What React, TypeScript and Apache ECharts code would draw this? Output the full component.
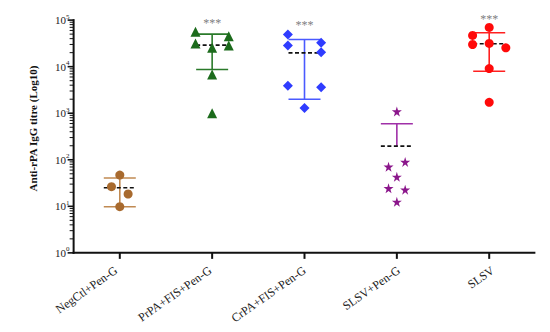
import React, { useEffect, useRef } from "react";
import * as echarts from "echarts";

const categories = ["NegCtl+Pen-G", "PrPA+FIS+Pen-G", "CrPA+FIS+Pen-G", "SLSV+Pen-G", "SLSV"];

// individual titres per group
const negCtl = [47, 26.4, 18.4, 9.8];
const prPA = [56000, 45000, 31600, 25400, 28500, 6760, 1000];
const crPA = [49000, 28500, 32600, 20400, 3900, 3600, 1300];
const slsvPen = [1090, 71, 90, 43, 24.5, 22.8, 12.5];
const slsv = [69700, 46900, 29900, 31600, 25400, 9100, 1710];

// horizontal jitter (in category units) of each point, as in the figure
const negCtlJitter = [0, -0.09, 0.09, 0];
const prPAJitter = [-0.18, 0.18, -0.18, 0, 0.18, 0, 0];
const crPAJitter = [-0.18, -0.18, 0.18, 0.18, -0.18, 0.18, 0];
const slsvPenJitter = [0, -0.09, 0.09, 0, -0.09, 0.09, 0];
const slsvJitter = [0, -0.18, -0.18, 0, 0.18, 0, 0];

// summary: mean, upper and lower error bar ends
const means = [25, 29000, 19800, 196, 31000];
const uppers = [40.7, 50000, 38400, 594, 53500];
const lowers: (number | null)[] = [9.8, 8700, 1990, null, 7950];

// significance marks
const sigText = ["", "***", "***", "", "***"];
const sigLevel = [0, 86000, 80000, 0, 106000];

// axis ticks
const yTickValues = [1, 10, 100, 1000, 10000, 100000];
const yMinorTickValues: number[] = [];
for (let e = 0; e < 5; e++) for (let k = 2; k <= 9; k++) yMinorTickValues.push(k * Math.pow(10, e));

const pointColors = ["#A86A2E", "#1C6B1C", "#2F3CFF", "#8B168B", "#FF0A0A"];
const barColors = ["#C08A52", "#2A7A2A", "#4A5AFF", "#A030A8", "#FF2020"];
const STAR = "path://M50,0 L61,35 L98,35 L68,57 L79,91 L50,70 L21,91 L32,57 L2,35 L39,35 Z";

const FONT = "Liberation Serif";
const AXIS = "#111111";

function pts(vals: number[], jit: number[], idx: number) {
  return vals.map((v, i) => [idx + jit[i], v]);
}

export default function App() {
  const ref = useRef<HTMLDivElement>(null);
  useEffect(() => {
    document.body.style.margin = "0";
    const chart = echarts.init(ref.current!, null, { renderer: "svg" });
    const scatterBase = (name: string, data: number[][], idx: number, symbol: string, size: number) => ({
      name,
      type: "scatter",
      xAxisIndex: 1,
      data,
      symbol,
      symbolSize: size,
      itemStyle: { color: pointColors[idx], opacity: 1 },
      z: 5,
    });
    const option: any = {
      animation: false,
      grid: { left: 69, right: 10, top: 18, bottom: 77 },
      xAxis: [
        {
          type: "category",
          data: categories,
          axisLine: { show: false, onZero: false },
          axisTick: { show: false },
          axisLabel: { rotate: 35, fontFamily: FONT, fontSize: 12, color: "#222", margin: 14 },
        },
        { type: "value", min: -0.55, max: 4.55, show: false },
      ],
      yAxis: {
        type: "log",
        logBase: 10,
        min: 0.9,
        max: 111000,
        name: "Anti-rPA IgG titre (Log10)",
        nameLocation: "middle",
        nameGap: 31,
        nameTextStyle: { fontFamily: FONT, fontSize: 11, fontWeight: "bold", color: "#111", padding: [0, 0, 0, 16] },
        axisLine: { show: false, onZero: false },
        axisTick: { show: false },
        splitLine: { show: false },
        axisLabel: { show: false },
      },
      series: [
        // axis frame, ticks and tick labels drawn inside the plot rectangle, through the scales
        {
          type: "custom",
          xAxisIndex: 1,
          clip: false,
          silent: true,
          z: 3,
          data: [[0, 1000]],
          renderItem: (params: any, api: any) => {
            const o = api.coord([-0.5, 1]);
            const t = api.coord([-0.5, 100000]);
            const r = api.coord([4.5, 1]);
            const fill = { fill: AXIS };
            const children: any[] = [
              { type: "rect", shape: { x: o[0] - 1, y: t[1] - 1, width: 2, height: o[1] - t[1] + 2 }, style: fill },
              { type: "rect", shape: { x: o[0] - 1, y: o[1] - 1, width: r[0] - o[0] + 1, height: 2 }, style: fill },
            ];
            yTickValues.forEach((v) => {
              const p = api.coord([-0.5, v]);
              children.push({ type: "rect", shape: { x: p[0] - 6, y: p[1] - 0.8, width: 6, height: 1.6 }, style: fill });
              const e = Math.round(Math.log10(v));
              children.push({
                type: "text",
                x: p[0] - 4,
                y: p[1],
                style: {
                  text: `{b|10}{s|${e}}`,
                  rich: {
                    b: { fontFamily: FONT, fontSize: 11, fill: "#222" },
                    s: { fontFamily: FONT, fontSize: 7, fill: "#222", verticalAlign: "top", padding: [0, 0, 7, 0] },
                  },
                  align: "right",
                  verticalAlign: "middle",
                },
              });
            });
            yMinorTickValues.forEach((v) => {
              const p = api.coord([-0.5, v]);
              children.push({ type: "rect", shape: { x: p[0] - 4, y: p[1] - 0.5, width: 4, height: 1 }, style: fill });
            });
            categories.forEach((c, i) => {
              const p = api.coord([i, 1]);
              children.push({ type: "rect", shape: { x: p[0] - 1, y: p[1], width: 2, height: 6 }, style: fill });
            });
            return { type: "group", children };
          },
        },
        // error bars and means
        {
          type: "custom",
          xAxisIndex: 1,
          clip: false,
          silent: true,
          z: 3,
          data: means.map((m, i) => [i, m, uppers[i], lowers[i] == null ? m : lowers[i]]),
          renderItem: (params: any, api: any) => {
            const i = params.dataIndex;
            const x = api.value(0);
            const top = api.coord([x, api.value(2)]);
            const mid = api.coord([x, api.value(1)]);
            const low = api.coord([x, api.value(3)]);
            const hw = 16;
            const col = barColors[i];
            const st = { stroke: col, lineWidth: 1.6 };
            const children: any[] = [
              { type: "line", shape: { x1: top[0], y1: top[1], x2: low[0], y2: low[1] }, style: st },
              { type: "line", shape: { x1: top[0] - hw, y1: top[1], x2: top[0] + hw, y2: top[1] }, style: st },
            ];
            if (lowers[i] != null) {
              children.push({ type: "line", shape: { x1: low[0] - hw, y1: low[1], x2: low[0] + hw, y2: low[1] }, style: st });
            }
            children.push({
              type: "line",
              z2: 10,
              shape: { x1: mid[0] - hw, y1: mid[1], x2: mid[0] + hw, y2: mid[1] },
              style: { stroke: "#111", lineWidth: 1.6, lineDash: [4, 2.5] },
            });
            return { type: "group", children };
          },
        },
        scatterBase("NegCtl+Pen-G", pts(negCtl, negCtlJitter, 0), 0, "circle", 9),
        scatterBase("PrPA+FIS+Pen-G", pts(prPA, prPAJitter, 1), 1, "triangle", 10),
        scatterBase("CrPA+FIS+Pen-G", pts(crPA, crPAJitter, 2), 2, "diamond", 10),
        scatterBase("SLSV+Pen-G", pts(slsvPen, slsvPenJitter, 3), 3, STAR, 10),
        scatterBase("SLSV", pts(slsv, slsvJitter, 4), 4, "circle", 9),
        // significance marks
        {
          type: "custom",
          xAxisIndex: 1,
          clip: false,
          silent: true,
          z: 6,
          data: sigLevel.map((v, i) => [i, v]),
          renderItem: (params: any, api: any) => {
            const i = params.dataIndex;
            if (!sigText[i]) return null;
            const p = api.coord([api.value(0), api.value(1)]);
            return {
              type: "text",
              x: p[0],
              y: p[1],
              style: {
                text: sigText[i],
                fontFamily: FONT,
                fontSize: 12,
                fill: "#808080",
                align: "center",
                verticalAlign: "middle",
              },
            };
          },
        },
      ],
    };
    chart.setOption(option);
    return () => chart.dispose();
  }, []);
  return <div ref={ref} style={{ width: 550, height: 332 }} />;
}
